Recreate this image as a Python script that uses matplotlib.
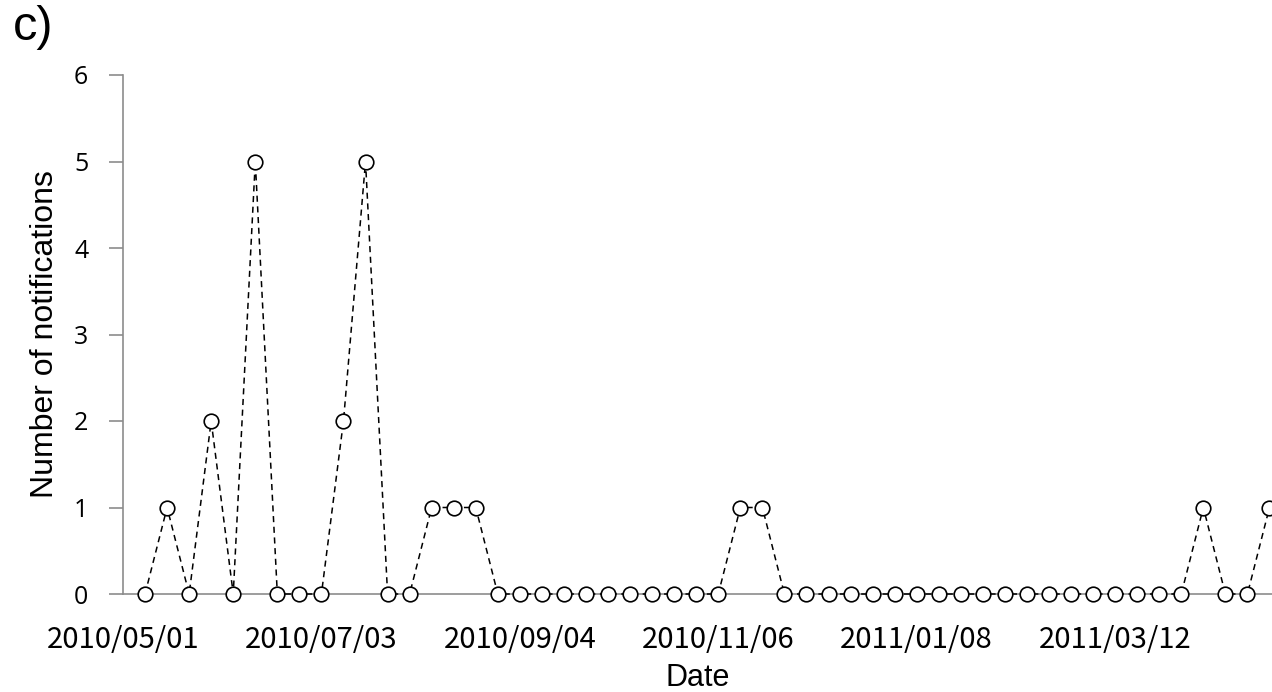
import datetime as dt
import matplotlib
matplotlib.use("Agg")
import matplotlib.pyplot as plt
import matplotlib.dates as mdates

# weekly notification counts, starting 2010/05/08
start = dt.date(2010, 5, 8)
counts = [0, 1, 0, 2, 0, 5, 0, 0, 0, 2, 5, 0, 0, 1, 1, 1,
          0, 0, 0, 0, 0, 0, 0, 0, 0, 0, 0, 1, 1,
          0, 0, 0, 0, 0, 0, 0, 0, 0, 0, 0, 0, 0, 0, 0, 0, 0, 0, 0,
          1, 0, 0, 1]
dates = [start + dt.timedelta(weeks=i) for i in range(len(counts))]

# axis labels every 9 weeks from 2010/05/01
tick_dates = [dt.date(2010, 5, 1) + dt.timedelta(weeks=9 * k) for k in range(6)]
tick_labels = [d.strftime("%Y/%m/%d") for d in tick_dates]

fig = plt.figure(figsize=(12.72, 6.92), dpi=100)
ax = fig.add_axes([123 / 1272, 98 / 692, 1 - 123 / 1272, 519 / 692])

ax.plot(dates, counts, color="black", linestyle=(0, (4, 3)), linewidth=1.1,
        marker="o", markersize=10.5, markerfacecolor="white",
        markeredgecolor="black", markeredgewidth=1.2, clip_on=False, zorder=3)

ax.set_ylim(0, 6)
ax.set_yticks(range(7))
left = mdates.date2num(start) - 6.2
ax.set_xlim(left, left + 364)
ax.set_xticks(mdates.date2num(tick_dates))
ax.set_xticklabels(tick_labels, family=["Noto Sans CJK JP", "DejaVu Sans"], fontsize=21)

for side in ("top", "right"):
    ax.spines[side].set_visible(False)
for side in ("left", "bottom"):
    ax.spines[side].set_color("#8c8c8c")
    ax.spines[side].set_linewidth(1.2)

ax.tick_params(axis="y", direction="out", length=10, width=1.2, color="#8c8c8c",
               labelsize=18, pad=15)
ax.tick_params(axis="x", length=0, pad=22)
for lab in ax.get_yticklabels():
    lab.set_family("Open Sans")

ax.set_ylabel("Number of notifications", family="Liberation Sans", fontsize=23, labelpad=10)
ax.set_xlabel("Date", family="Liberation Sans", fontsize=22, labelpad=6)

fig.text(13 / 1272, 1 - 5 / 692, "c)", family="Liberation Sans", fontsize=35,
         ha="left", va="top")

fig.savefig("out.png", dpi=100)
